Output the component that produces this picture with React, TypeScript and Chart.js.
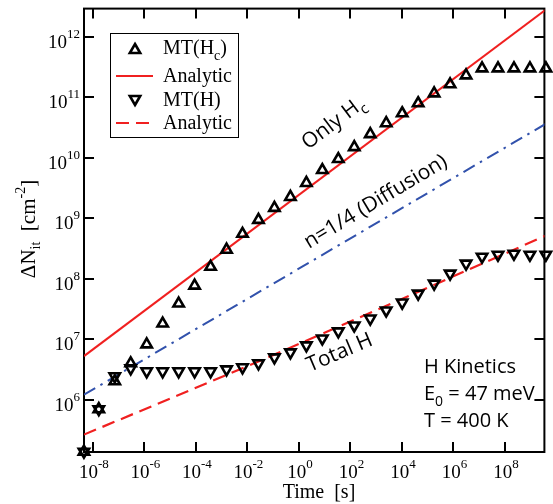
import React, { useEffect, useRef } from 'react';
import { Chart, registerables } from 'chart.js';

Chart.register(...registerables);

// Stress time [s] of the simulated points
const timeS = [
  4.5e-9, 1.7e-8, 7.08e-8, 2.95e-7, 1.23e-6, 5.13e-6, 2.14e-5, 8.91e-5, 3.72e-4, 1.55e-3,
  6.46e-3, 0.0269, 0.112, 0.468, 1.95, 8.13, 33.9, 141, 589, 2455,
  10230, 42660, 1.78e5, 7.41e5, 3.09e6, 1.29e7, 5.37e7, 2.24e8, 9.33e8, 3.89e9,
];

// MT(Hc): interface traps from Hc only [cm^-2]
const mtHc = [
  1.38e5, 6.97e5, 2.02e6, 4.0e6, 8.22e6, 1.82e7, 3.9e7, 7.71e7, 1.58e8, 3.03e8,
  5.55e8, 9.44e8, 1.49e9, 2.26e9, 3.85e9, 6.3e9, 9.57e9, 1.51e10, 2.47e10, 3.75e10,
  5.48e10, 8.02e10, 1.17e11, 1.65e11, 2.32e11, 3.03e11, 3.03e11, 3.03e11, 3.03e11, 3.03e11,
];

// MT(H): total hydrogen [cm^-2]
const mtH = [
  1.38e5, 6.97e5, 2.44e6, 3.3e6, 2.95e6, 2.95e6, 2.95e6, 2.95e6, 2.95e6, 3.18e6,
  3.44e6, 4.0e6, 5.02e6, 6.07e6, 7.91e6, 1.03e7, 1.35e7, 1.69e7, 2.2e7, 2.99e7,
  4.05e7, 5.69e7, 8.32e7, 1.22e8, 1.78e8, 2.32e8, 2.5e8, 2.6e8, 2.5e8, 2.5e8,
];

// Analytic solution, Hc only (solid)
const hcAnalyticT = [4.53e-9, 1e10];
const hcAnalyticN = [5.27e6, 3.84e12];

// Analytic solution, total H (dashed)
const totalAnalyticT = [4.53e-9, 0.0122, 7345, 3.7e9, 1e10];
const totalAnalyticN = [2.65e5, 3.71e6, 4.37e7, 5.14e8, 6.2e8];

// n = 1/4 diffusion reference (dash-dot)
const diffusionT = [4.53e-9, 1e10];
const diffusionN = [1.21e6, 4.66e10];

// Axis ranges and decade ticks
const xRange = [4.53e-9, 3.4e9];
const yRange = [1.365e5, 2.95e12];
const xTickExponents = [-8, -6, -4, -2, 0, 2, 4, 6, 8];
const yTickExponents = [6, 7, 8, 9, 10, 11, 12];

const RED = 'rgb(240,32,32)';
const BLUE = 'rgb(50,82,172)';
const SERIF = '"Liberation Serif", "Times New Roman", serif';
const SANS = '"Open Sans", "DejaVu Sans", sans-serif';
const MARKER_R = 6;
const MARKER_W = 2.6;

type Part = { t: string; size: number; dy?: number; family?: string };

function drawRich(ctx: CanvasRenderingContext2D, parts: Part[], x: number, y: number, align: 'left' | 'center' | 'right') {
  let total = 0;
  const widths: number[] = [];
  for (const p of parts) {
    ctx.font = `${p.size}px ${p.family || SERIF}`;
    const w = ctx.measureText(p.t).width;
    widths.push(w);
    total += w;
  }
  let cx = align === 'center' ? x - total / 2 : align === 'right' ? x - total : x;
  ctx.textAlign = 'left';
  ctx.textBaseline = 'alphabetic';
  parts.forEach((p, i) => {
    ctx.font = `${p.size}px ${p.family || SERIF}`;
    ctx.fillText(p.t, cx, y + (p.dy || 0));
    cx += widths[i];
  });
}

function triangle(ctx: CanvasRenderingContext2D, x: number, y: number, r: number, down: boolean) {
  const s = down ? -1 : 1;
  const w = r * Math.sin(Math.PI / 3);
  ctx.beginPath();
  ctx.moveTo(x, y - s * r);
  ctx.lineTo(x + w, y + s * r * 0.5);
  ctx.lineTo(x - w, y + s * r * 0.5);
  ctx.closePath();
  ctx.stroke();
}

const framePlugin = {
  id: 'frameTicks',
  beforeDatasetsDraw(chart: any) {
    const ctx: CanvasRenderingContext2D = chart.ctx;
    const a = chart.chartArea;
    const xs = chart.scales.x;
    const ys = chart.scales.y;
    ctx.save();
    ctx.strokeStyle = '#000';
    ctx.lineWidth = 2;
    ctx.strokeRect(a.left, a.top, a.right - a.left, a.bottom - a.top);
    const len = 10;
    ctx.beginPath();
    for (const e of xTickExponents) {
      const px = Math.round(xs.getPixelForValue(Math.pow(10, e)));
      ctx.moveTo(px, a.bottom);
      ctx.lineTo(px, a.bottom - len);
      ctx.moveTo(px, a.top);
      ctx.lineTo(px, a.top + len);
    }
    for (const e of yTickExponents) {
      const py = Math.round(ys.getPixelForValue(Math.pow(10, e)));
      ctx.moveTo(a.left, py);
      ctx.lineTo(a.left + len, py);
      ctx.moveTo(a.right, py);
      ctx.lineTo(a.right - len, py);
    }
    ctx.stroke();
    ctx.restore();
  },
  afterDraw(chart: any) {
    const ctx: CanvasRenderingContext2D = chart.ctx;
    const a = chart.chartArea;
    const xs = chart.scales.x;
    const ys = chart.scales.y;
    ctx.save();
    ctx.fillStyle = '#000';

    // tick labels
    for (const e of xTickExponents) {
      const px = xs.getPixelForValue(Math.pow(10, e));
      drawRich(ctx, [
        { t: '10', size: 19 },
        { t: String(e), size: 13, dy: -10 },
      ], px + 1, a.bottom + 26, 'center');
    }
    for (const e of yTickExponents) {
      const py = ys.getPixelForValue(Math.pow(10, e));
      drawRich(ctx, [
        { t: '10', size: 19 },
        { t: String(e), size: 13, dy: -10 },
      ], a.left - 4, py + 11, 'right');
    }

    // axis titles
    drawRich(ctx, [{ t: 'Time  [s]', size: 20 }], 319, 498, 'center');
    ctx.save();
    ctx.translate(35, 229);
    ctx.rotate(-Math.PI / 2);
    drawRich(ctx, [
      { t: '\u0394N', size: 21 },
      { t: 'it', size: 14, dy: 5 },
      { t: '  [cm', size: 21 },
      { t: '-2', size: 14, dy: -10 },
      { t: ']', size: 21 },
    ], 0, 0, 'center');
    ctx.restore();

    // legend box
    ctx.lineWidth = 1;
    ctx.strokeStyle = '#000';
    ctx.strokeRect(110.5, 33.5, 128, 104);
    ctx.lineWidth = MARKER_W;
    triangle(ctx, 135, 50, MARKER_R, false);
    triangle(ctx, 135, 99, MARKER_R, true);
    ctx.strokeStyle = RED;
    ctx.lineWidth = 2;
    ctx.beginPath();
    ctx.moveTo(116, 76);
    ctx.lineTo(153, 76);
    ctx.stroke();
    ctx.setLineDash([13, 7]);
    ctx.lineWidth = 2.2;
    ctx.beginPath();
    ctx.moveTo(116, 123);
    ctx.lineTo(153, 123);
    ctx.stroke();
    ctx.setLineDash([]);
    ctx.fillStyle = '#000';
    drawRich(ctx, [
      { t: 'MT(H', size: 20 },
      { t: 'c', size: 14, dy: 6 },
      { t: ')', size: 20 },
    ], 163, 54, 'left');
    drawRich(ctx, [{ t: 'Analytic', size: 20 }], 163, 82, 'left');
    drawRich(ctx, [{ t: 'MT(H)', size: 20 }], 163, 106, 'left');
    drawRich(ctx, [{ t: 'Analytic', size: 20 }], 163, 129, 'left');

    // curve annotations
    const rotated = (parts: Part[], x: number, y: number, deg: number) => {
      ctx.save();
      ctx.translate(x, y);
      ctx.rotate((deg * Math.PI) / 180);
      drawRich(ctx, parts, 0, 0, 'left');
      ctx.restore();
    };
    rotated([
      { t: 'Only H', size: 21, family: SANS },
      { t: 'c', size: 15, dy: 6, family: SANS },
    ], 308, 150, -37);
    rotated([{ t: 'n=1/4 (Diffusion)', size: 21, family: SANS }], 309, 249, -31);
    rotated([{ t: 'Total H', size: 21, family: SANS }], 310, 372, -23);

    drawRich(ctx, [{ t: 'H Kinetics', size: 20, family: SANS }], 424, 373, 'left');
    drawRich(ctx, [
      { t: 'E', size: 20, family: SANS },
      { t: '0', size: 14, dy: 6, family: SANS },
      { t: ' = 47 meV', size: 20, family: SANS },
    ], 424, 400, 'left');
    drawRich(ctx, [{ t: 'T = 400 K', size: 20, family: SANS }], 424, 427, 'left');

    ctx.restore();
  },
};

const pairs = (xs: number[], ys: number[]) => xs.map((x, i) => ({ x, y: ys[i] }));

export default function App() {
  const ref = useRef<HTMLCanvasElement>(null);
  useEffect(() => {
    document.body.style.margin = '0';
    const chart = new Chart(ref.current as HTMLCanvasElement, {
      type: 'scatter',
      data: {
        datasets: [
          {
            label: 'MT(Hc)',
            data: pairs(timeS, mtHc),
            pointStyle: 'triangle',
            pointRadius: MARKER_R,
            borderWidth: MARKER_W,
            borderColor: '#000',
            backgroundColor: 'rgba(0,0,0,0)',
            showLine: false,
            clip: false,
          },
          {
            label: 'MT(H)',
            data: pairs(timeS, mtH),
            pointStyle: 'triangle',
            pointRotation: 180,
            pointRadius: MARKER_R,
            borderWidth: MARKER_W,
            borderColor: '#000',
            backgroundColor: 'rgba(0,0,0,0)',
            showLine: false,
            clip: false,
          },
          {
            label: 'Analytic',
            data: pairs(hcAnalyticT, hcAnalyticN),
            showLine: true,
            pointRadius: 0,
            borderColor: RED,
            borderWidth: 2,
          },
          {
            label: 'Analytic (total H)',
            data: pairs(totalAnalyticT, totalAnalyticN),
            showLine: true,
            pointRadius: 0,
            borderColor: RED,
            borderWidth: 2.2,
            borderDash: [13, 7],
          },
          {
            label: 'n=1/4 (Diffusion)',
            data: pairs(diffusionT, diffusionN),
            showLine: true,
            pointRadius: 0,
            borderColor: BLUE,
            borderWidth: 2,
            borderDash: [13, 6, 2.5, 6],
          },
        ],
      } as any,
      options: {
        animation: false,
        responsive: false,
        devicePixelRatio: 1,
        events: [],
        layout: { padding: { left: 84, top: 7, right: 2, bottom: 52 } },
        plugins: { legend: { display: false }, tooltip: { enabled: false } },
        scales: {
          x: { type: 'logarithmic', min: xRange[0], max: xRange[1], display: false },
          y: { type: 'logarithmic', min: yRange[0], max: yRange[1], display: false },
        },
      } as any,
      plugins: [framePlugin],
    });
    return () => chart.destroy();
  }, []);
  return (
    <div style={{ width: 553, height: 504 }}>
      <canvas ref={ref} width={553} height={504} style={{ display: 'block' }} />
    </div>
  );
}
